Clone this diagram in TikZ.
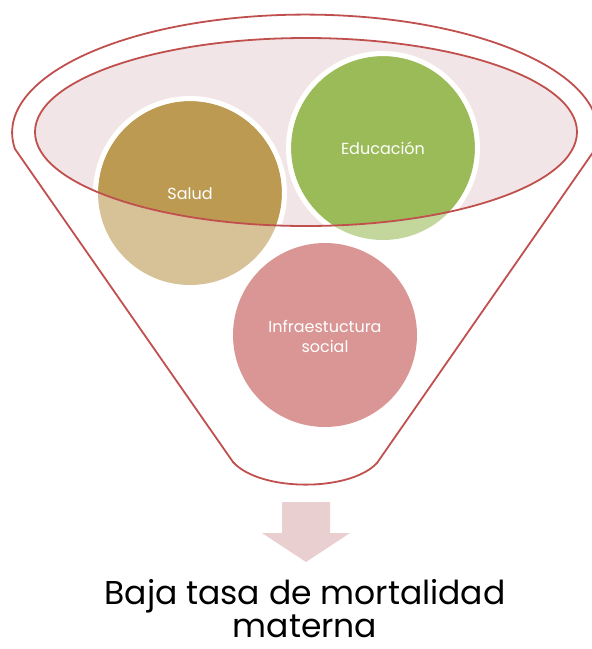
\documentclass[tikz,border=0pt]{standalone}
\usepackage{fontspec}
\setmainfont{Poppins}

\definecolor{funnelred}{HTML}{C0504D}
\definecolor{bowlpink}{HTML}{F2E5E7}
\definecolor{saludgold}{HTML}{BD9A51}
\definecolor{edugreen}{HTML}{9BBB59}
\definecolor{arrowpink}{HTML}{E9CFD0}

\tikzset{
  edge/.style={draw=funnelred,line width=1.8pt},
  ring/.style={draw=white,line width=5pt},
  balltext/.style={text=white,inner sep=0pt,align=center,font=\fontsize{16}{20}\selectfont}
}

\begin{document}
\begin{tikzpicture}[x=1pt,y=-1pt]

	\useasboundingbox (0,0) rectangle (592,649);
	\clip (0,0) rectangle (592,649);

	\coordinate (bowl) at (306,132);
	\coordinate (salud) at (190,193);
	\coordinate (edu) at (383,148);
	\coordinate (infra) at (325,335);

	% bowl of the funnel
	\fill[bowlpink] (bowl) ellipse [x radius=271, y radius=94];

	% balls, pale where they leave the bowl
	\fill[saludgold!60!white] (salud) circle [radius=92];
	\fill[edugreen!60!white] (edu) circle [radius=92];
	\fill[funnelred!60!white] (infra) circle [radius=92];
	\begin{scope}
		\clip (bowl) ellipse [x radius=271, y radius=94];
		\fill[saludgold] (salud) circle [radius=92];
		\fill[edugreen] (edu) circle [radius=92];
		\draw[ring] (salud) circle [radius=94.5];
		\draw[ring] (edu) circle [radius=94.5];
	\end{scope}
	\draw[edge] (bowl) ellipse [x radius=271, y radius=94];

	% funnel
	\coordinate (tl) at (15,149);
	\coordinate (br) at (377,463);
	\coordinate (bl) at (233,462);
	\draw[edge,line join=round] (tl) arc [start angle=172, end angle=368, x radius=293, y radius=118]
		-- (br) .. controls (350,492) and (260,492) .. (bl) -- cycle;

	\node[balltext,anchor=base] (saludtxt) at (190,199) {Salud};
	\node[balltext,anchor=base] (edutxt) at (383,154) {Educación};
	\node[balltext] (infratxt) at (325,336) {Infraestuctura\\social};

	% arrow
	\fill[arrowpink] (282,502) -- (330,502) -- (330,533) -- (350,533) -- (306,562)
		-- (262,533) -- (282,533) -- cycle;

	\node[inner sep=0pt,text depth=0pt,anchor=south,align=center,font=\fontsize{33}{33}\selectfont] (result) at (305,638)
		{Baja tasa de mortalidad\\materna};

\end{tikzpicture}
\end{document}
